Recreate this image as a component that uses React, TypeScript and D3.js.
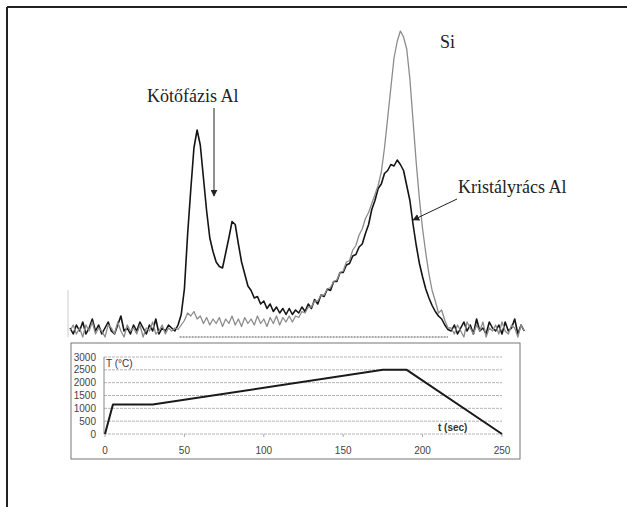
import React from 'react';
import * as d3 from 'd3';

// spectrum samples every 2 s (-22 .. 264 s), intensity in arbitrary units (Si peak = 100)
const specTimes = d3.range(-22, 266, 2);

const alSignal = [
  1, -1, 2, 0, 3, -1, 1, 4, 0, 2, -1, 1, 3, 0, -1, 2, 5, 0, 1, -1, 2, 0, 3, 1, -1, 2, 0, 4, -1, 1, 0, 2, 1, 0,
  2, 5.5, 14, 32, 47, 61, 67, 62, 51, 40, 31, 26.5, 23, 21.5, 21, 26, 31, 36.5, 35.5, 29,
  23, 19, 15, 13.5, 11, 11.5, 9, 10, 7.5, 9, 6.5, 8, 6, 7.5, 5.5, 7.5, 5.5, 7, 6, 8,
  6.5, 9, 7.5, 10.5, 9, 12, 11.5, 14, 13.5, 16.5, 16.5, 19.5, 19.5, 22, 22.5, 25, 25.5, 28, 29, 32.5,
  35.5, 40.5, 43.5, 47.5, 49, 52.5, 53.5, 55.5, 55, 57, 55.5, 53.5, 48.5, 43.5, 35.5, 28.5, 22.5, 18, 14, 11,
  8.5, 6.5, 5, 4, 2, 0.5,
  0, 2, -1, 1, 3, 0, 2, -1, 4, 0, 1, -1, 3, 1, 0, 2, -1, 3, 0, 1, 4, -1, 2, 0,
];

const siSignal = [
  0, 2, -1, 1, -2, 2, 0, 3, -1, 1, 0, -2, 2, 1, -1, 3, 0, -2, 2, 0, 1, -1, 2, -2, 1, 0, 3, -1, 0, 2, -1, 1, 0, 1,
  0.5, 2, 3.5, 6, 5, 6.5, 4, 5, 2.5, 4.5, 2, 4, 2.5, 4.5, 1.5, 4, 2.5, 5, 2, 4,
  1.5, 4.5, 2.5, 4, 2, 5, 2.5, 4, 1.5, 4.5, 2.5, 5, 2, 4.5, 3, 5, 3, 5, 4.5, 6.5,
  6, 8, 8, 10, 10, 12, 12, 14, 14.5, 16.5, 17, 19.5, 20, 23, 23.5, 27, 28.5, 32, 34, 37.5,
  39.5, 42.5, 45.5, 48.5, 53, 61, 71, 81, 91, 96.5, 100, 98, 94, 84, 70, 56, 44, 34, 26, 19,
  13.5, 10, 6, 7, 3.5, 1,
  1, -1, 2, 0, -2, 3, 1, -1, 2, 0, 3, -2, 1, 0, 2, -1, 3, 0, -1, 2, 1, -2, 2, 0,
];

// heating program
const tempTime = [0, 5, 30, 175, 190, 250];
const tempValue = [0, 1150, 1150, 2500, 2500, 0];
const tempTicks = [0, 500, 1000, 1500, 2000, 2500, 3000];
const timeTicks = [0, 50, 100, 150, 200, 250];

const serif = '"Liberation Serif", "Times New Roman", serif';
const sans = '"Liberation Sans", Arial, sans-serif';

export default function App() {
  const x = d3.scaleLinear().domain([0, 250]).range([105, 502]);
  const yT = d3.scaleLinear().domain([0, 3000]).range([434, 357]);
  const yS = d3.scaleLinear().domain([0, 100]).range([331, 31]);

  const specLine = d3.line<number>()
    .x((_, i) => x(specTimes[i]))
    .y(d => yS(d));

  const tempLine = d3.line<number>()
    .x((_, i) => x(tempTime[i]))
    .y(d => yT(d));

  return (
    <div style={{ position: 'fixed', left: 0, top: 0 }}>
      <svg width={627} height={507} style={{ display: 'block', background: '#fff' }}>
        <defs>
          <marker id="arr" viewBox="0 0 10 10" refX="9" refY="5" markerWidth="7" markerHeight="7" orient="auto">
            <path d="M0,0 L10,5 L0,10 z" fill="#222" />
          </marker>
        </defs>

        {/* page frame */}
        <line x1={7} y1={7} x2={627} y2={7} stroke="#222" strokeWidth={2} />
        <line x1={7} y1={7} x2={7} y2={507} stroke="#222" strokeWidth={2} />

        {/* spectrum */}
        <line x1={68} y1={290} x2={68} y2={337} stroke="#ccc" strokeWidth={1} />
        <line x1={x(47)} y1={yS(-2)} x2={x(216)} y2={yS(-2)} stroke="#555" strokeWidth={1.2} strokeDasharray="2,1" />
        <path d={specLine(alSignal) ?? ''} fill="none" stroke="#141414" strokeWidth={1.6} strokeLinejoin="round" />
        <path d={specLine(siSignal) ?? ''} fill="none" stroke="#8c8c8c" strokeWidth={1.3} strokeLinejoin="round" />

        {/* annotations */}
        <text x={147} y={102} fontFamily={serif} fontSize={18} fill="#222">Kötőfázis Al</text>
        <line x1={214} y1={108} x2={214} y2={196} stroke="#222" strokeWidth={1} markerEnd="url(#arr)" />
        <text x={440} y={48} fontFamily={serif} fontSize={18} fill="#222">Si</text>
        <text x={458} y={193} fontFamily={serif} fontSize={18} fill="#222">Kristályrács Al</text>
        <line x1={457} y1={199} x2={413} y2={220} stroke="#222" strokeWidth={1} markerEnd="url(#arr)" />

        {/* temperature program */}
        <rect x={71} y={343} width={449} height={116} fill="none" stroke="#777" strokeWidth={1} />
        {tempTicks.map(t => (
          <g key={t}>
            <line x1={x(0) - 1} x2={x(250)} y1={yT(t)} y2={yT(t)} stroke="#b5b5b5" strokeWidth={1} strokeDasharray="3,1" />
            <text x={96} y={yT(t) + 3.5} textAnchor="end" fontFamily={sans} fontSize={10} fill="#444">{t}</text>
          </g>
        ))}
        <line x1={x(0) - 1} x2={x(0) - 1} y1={yT(3000)} y2={yT(0)} stroke="#888" strokeWidth={1} />
        {timeTicks.map(t => (
          <g key={t}>
            <line x1={x(t)} x2={x(t)} y1={yT(0)} y2={yT(0) + 3} stroke="#aaa" strokeWidth={1} />
            <text x={x(t)} y={454} textAnchor="middle" fontFamily={sans} fontSize={10} fill="#444">{t}</text>
          </g>
        ))}
        <text x={106} y={367} fontFamily={sans} fontSize={10} fill="#333">T (°C)</text>
        <text x={438} y={431} fontFamily={sans} fontSize={10} fontWeight="bold" fill="#333">t (sec)</text>
        <path d={tempLine(tempValue) ?? ''} fill="none" stroke="#1a1a1a" strokeWidth={2} strokeLinejoin="round" />
      </svg>
    </div>
  );
}
